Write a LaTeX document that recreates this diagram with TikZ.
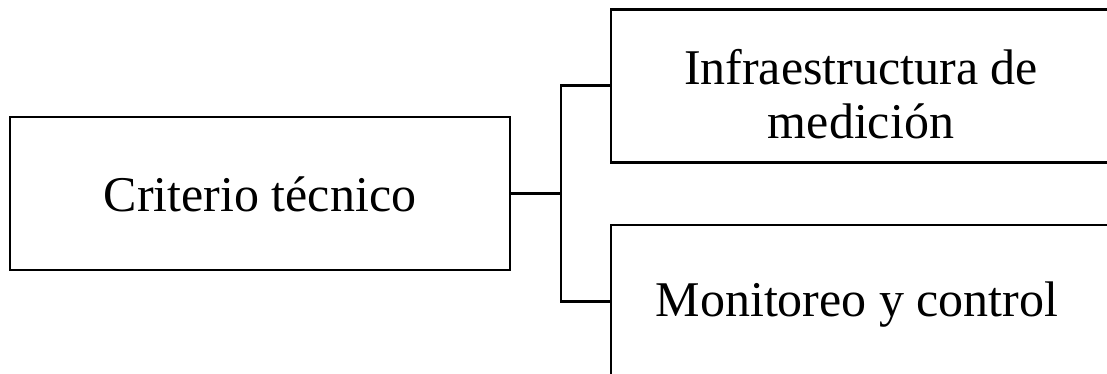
\documentclass[tikz,border=0pt]{standalone}
\usepackage{fontspec}
\setmainfont{Liberation Serif}
\begin{document}
\begin{tikzpicture}[x=1pt,y=-1pt,
  box/.style={draw, line width=2.7pt, minimum width=500pt, minimum height=153pt, inner sep=0pt},
  lbl/.style={font=\fontsize{50}{54}\selectfont, inner sep=0pt, align=center},
  conn/.style={line width=2.7pt}]
\useasboundingbox (0,0) rectangle (1107,374);
\node[box] (crit) at (260,193.6) {};
\node[box] (infra) at (861,85.8) {};
\node[box] (moni) at (861,301.5) {};
\node[lbl, anchor=base] (critt) at (260,211.7) {Criterio técnico};
\node[lbl, anchor=base] (infrat1) at (861,85) {Infraestructura de};
\node[lbl, anchor=base] (infrat2) at (861,138.3) {medición};
\node[lbl, anchor=base] (monit) at (857,316.7) {Monitoreo y control};
\draw[conn] (crit.east) -- ++(49.5,0) coordinate (j);
\draw[conn] (infra.west) -| (j) |- (moni.west);
\end{tikzpicture}
\end{document}
